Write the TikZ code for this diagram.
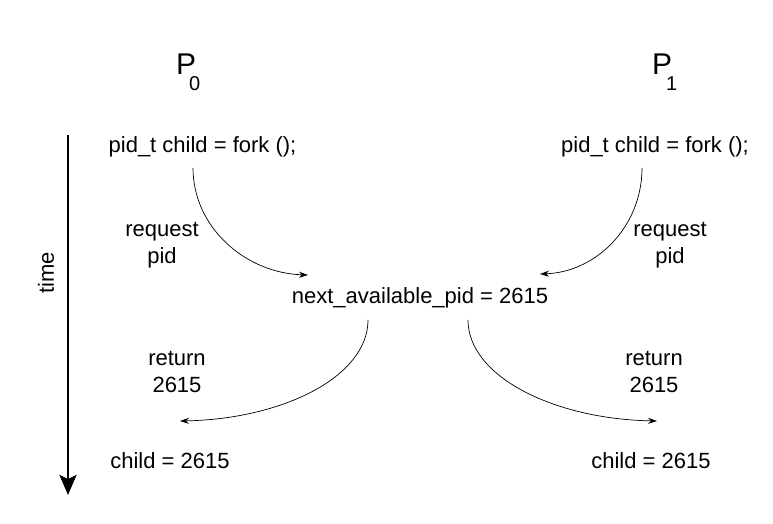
\documentclass[tikz,border=0pt]{standalone}
\usepackage{fontspec}
\setmainfont{Liberation Sans}
\usetikzlibrary{arrows.meta}
\begin{document}
\begin{tikzpicture}[x=1pt,y=-1pt,
  txt/.style={font=\fontsize{22}{26.5}\selectfont, inner sep=0pt, align=center},
  proc/.style={font=\fontsize{30}{30}\selectfont, inner sep=0pt, anchor=base west},
  sub/.style={font=\fontsize{20}{20}\selectfont, inner sep=0pt, anchor=base west},
  conn/.style={line width=0.7pt, -{Stealth[length=9pt,width=6pt]}},
  timeline/.style={line width=2.6pt, -{Stealth[length=20pt,width=17pt,inset=4pt]}}
]
\useasboundingbox (0,0) rectangle (773,524);
% process labels
\node[proc] (p0) at (176,75) {P};
\node[sub] (p0s) at (189,91) {0};
\node[proc] (p1) at (652,75) {P};
\node[sub] (p1s) at (666,91) {1};
% code lines
\node[txt, anchor=base] (fork0) at (202.5,152) {pid\_t child = fork ();};
\node[txt, anchor=base] (fork1) at (655,152) {pid\_t child = fork ();};
\node[txt, anchor=base] (req0) at (162,263) {request\\pid};
\node[txt, anchor=base] (req1) at (670,263) {request\\pid};
\node[txt, anchor=base] (nap) at (420,303) {next\_available\_pid = 2615};
\node[txt, anchor=base] (ret0) at (177,392) {return\\2615};
\node[txt, anchor=base] (ret1) at (654,392) {return\\2615};
\node[txt, anchor=base] (ch0) at (170,468) {child = 2615};
\node[txt, anchor=base] (ch1) at (651,468) {child = 2615};
% time axis
\coordinate (t0) at (68,135);
\coordinate (t1) at (68,495);
\draw[timeline] (t0) -- (t1);
\node[txt, rotate=90] (time) at (46,273) {time};
% connector end points
\coordinate (a0) at (193,168);
\coordinate (a1) at (642,168);
\coordinate (b0) at (308,275);
\coordinate (b1) at (540,274);
\coordinate (c0) at (368,320);
\coordinate (c1) at (468,320);
\coordinate (d0) at (180,421);
\coordinate (d1) at (657,421);
\draw[conn] (a0) .. controls (193,227) and (245,273) .. (b0);
\draw[conn] (a1) .. controls (642,226) and (597,272) .. (b1);
\draw[conn] (c0) .. controls (368,376) and (284,419) .. (d0);
\draw[conn] (c1) .. controls (468,376) and (553,419) .. (d1);
\end{tikzpicture}
\end{document}
